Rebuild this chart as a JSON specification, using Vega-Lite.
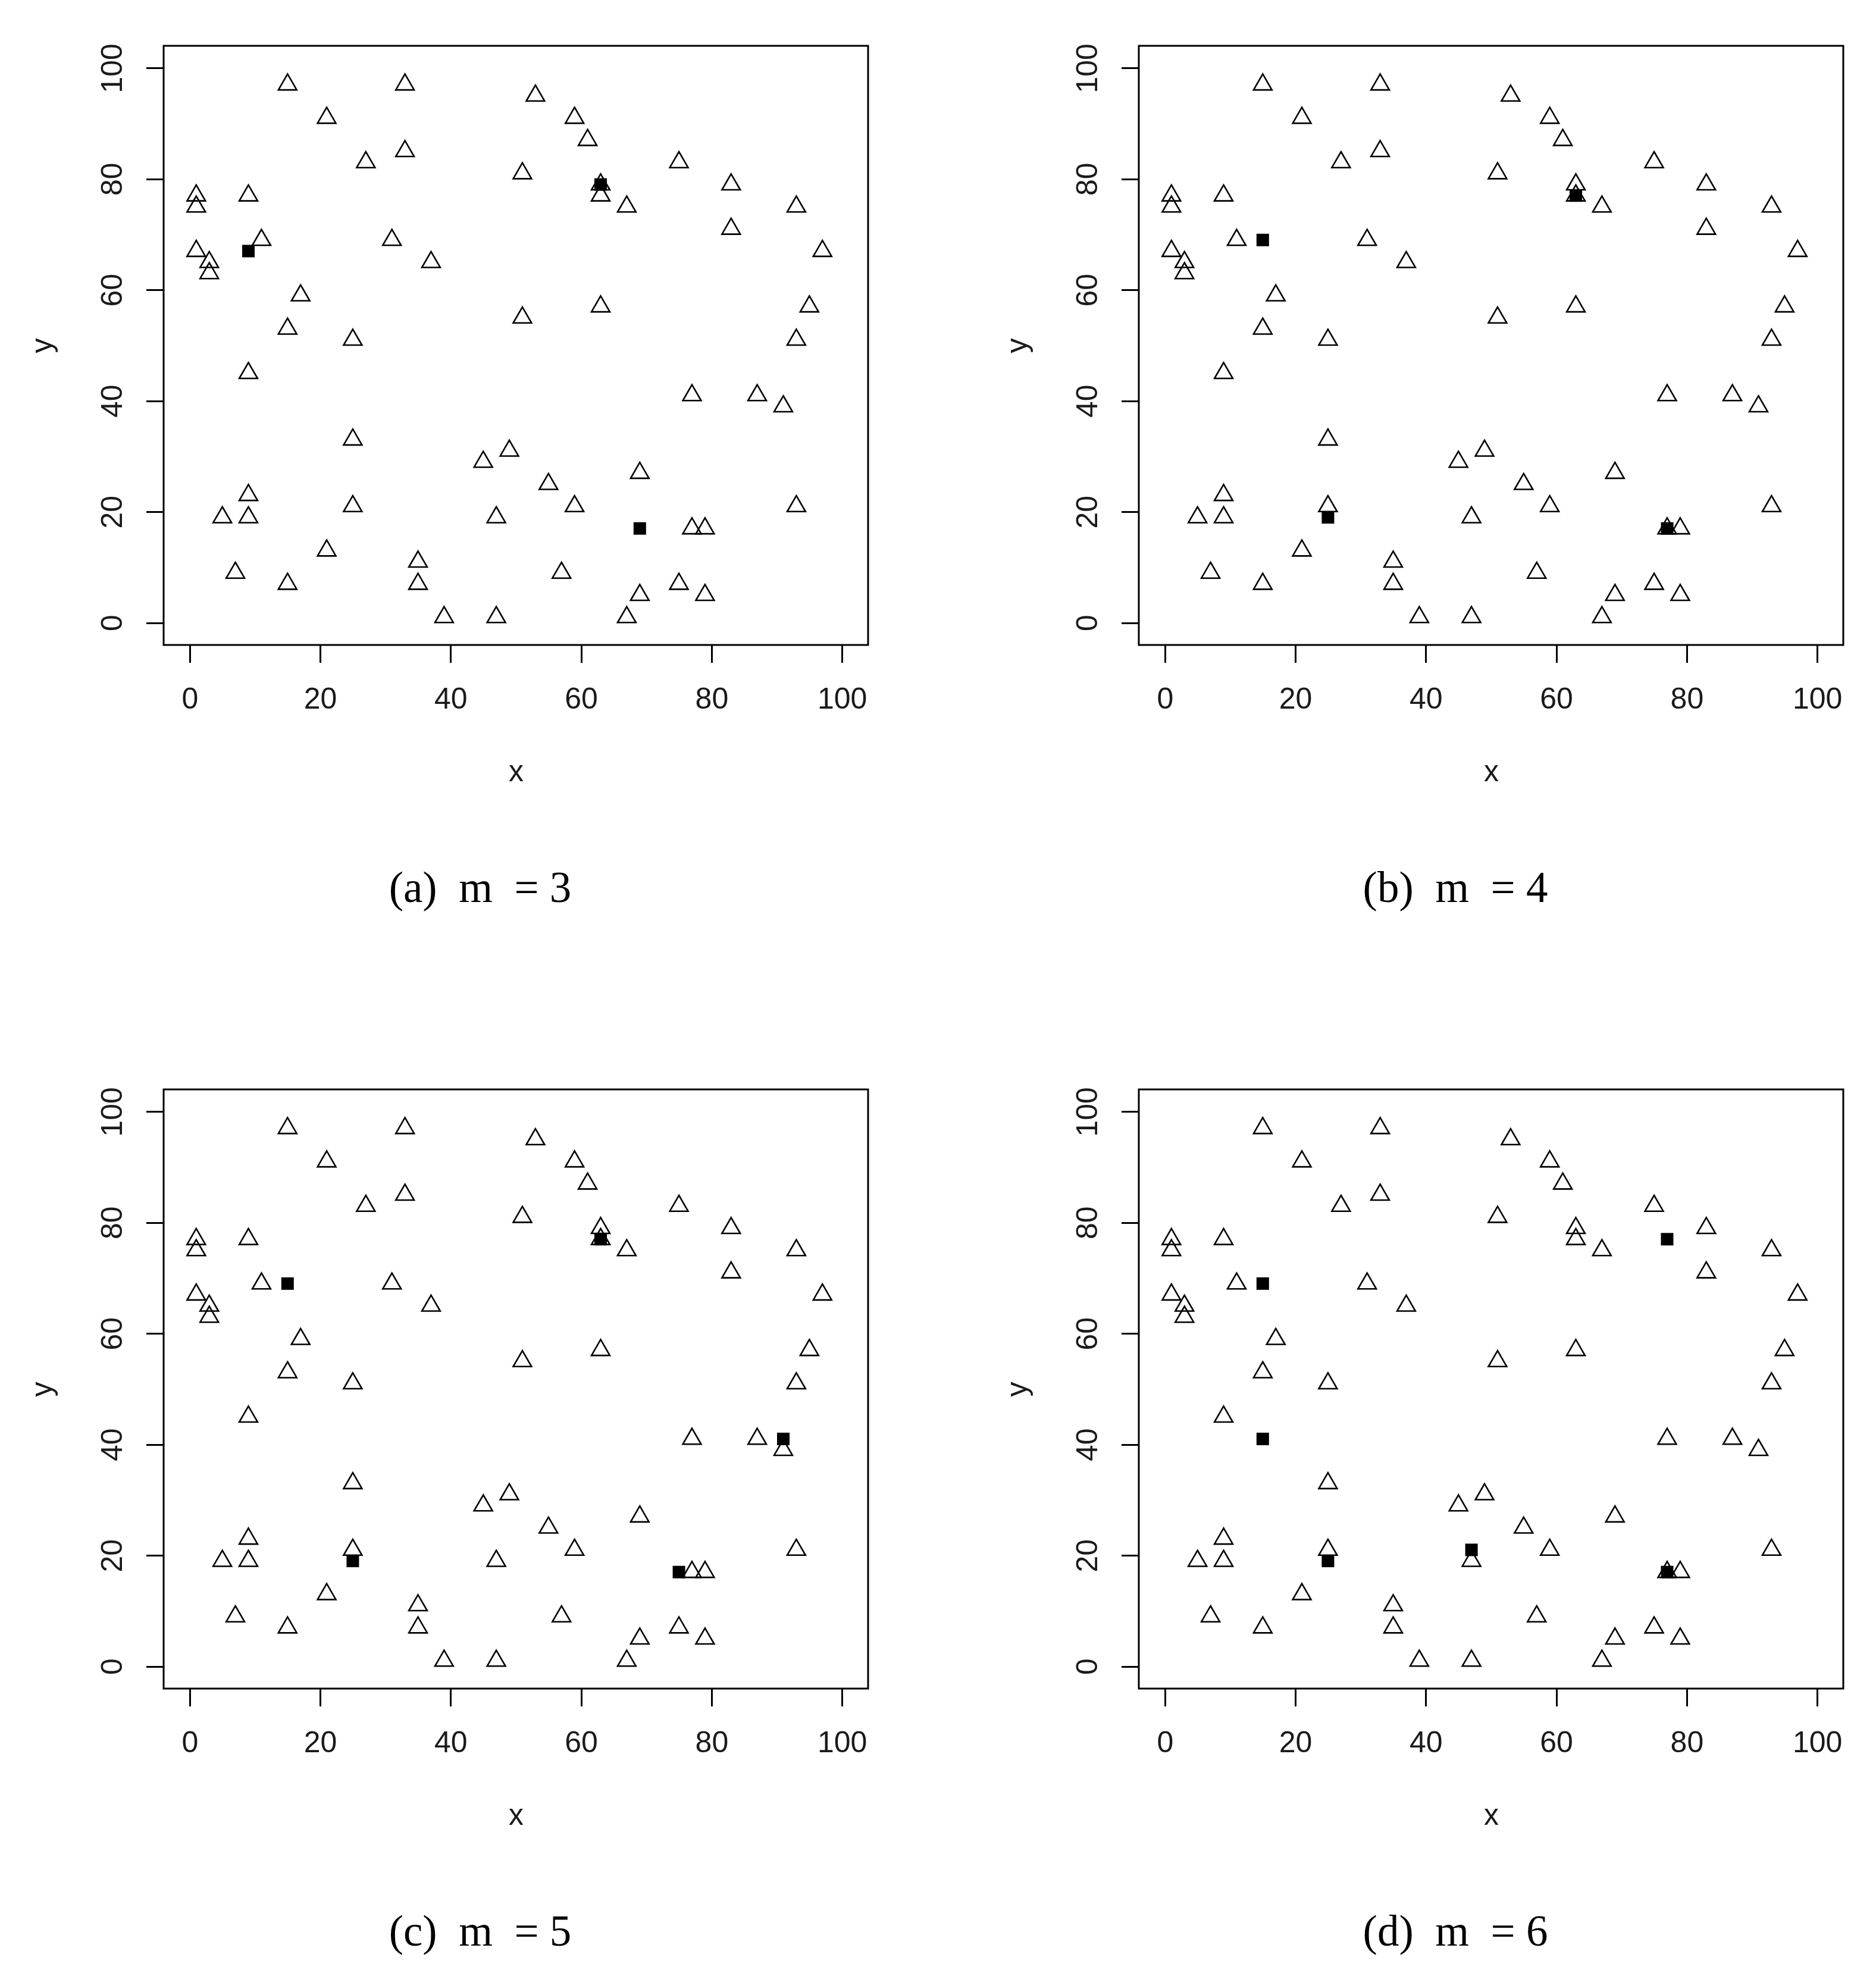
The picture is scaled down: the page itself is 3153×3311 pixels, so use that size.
{
  "$schema": "https://vega.github.io/schema/vega-lite/v6.json",
  "background": "white",
  "padding": {"left": 44, "top": 71, "right": 30, "bottom": 20},
  "datasets": {
    "demand": [
      {"x": 1, "y": 77}, {"x": 1, "y": 75}, {"x": 1, "y": 67}, {"x": 3, "y": 65}, {"x": 3, "y": 63},
      {"x": 9, "y": 77}, {"x": 11, "y": 69}, {"x": 15, "y": 97}, {"x": 21, "y": 91}, {"x": 27, "y": 83},
      {"x": 33, "y": 97}, {"x": 33, "y": 85}, {"x": 31, "y": 69}, {"x": 37, "y": 65}, {"x": 17, "y": 59},
      {"x": 15, "y": 53}, {"x": 25, "y": 51}, {"x": 9, "y": 45}, {"x": 25, "y": 33}, {"x": 9, "y": 23},
      {"x": 9, "y": 19}, {"x": 5, "y": 19}, {"x": 25, "y": 21}, {"x": 21, "y": 13}, {"x": 7, "y": 9},
      {"x": 15, "y": 7}, {"x": 35, "y": 11}, {"x": 35, "y": 7}, {"x": 39, "y": 1}, {"x": 47, "y": 1},
      {"x": 45, "y": 29}, {"x": 49, "y": 31}, {"x": 55, "y": 25}, {"x": 59, "y": 21}, {"x": 47, "y": 19},
      {"x": 57, "y": 9}, {"x": 67, "y": 1}, {"x": 69, "y": 5}, {"x": 75, "y": 7}, {"x": 79, "y": 5},
      {"x": 69, "y": 27}, {"x": 77, "y": 17}, {"x": 79, "y": 17}, {"x": 93, "y": 21}, {"x": 77, "y": 41},
      {"x": 87, "y": 41}, {"x": 91, "y": 39}, {"x": 93, "y": 51}, {"x": 95, "y": 57}, {"x": 97, "y": 67},
      {"x": 93, "y": 75}, {"x": 83, "y": 71}, {"x": 83, "y": 79}, {"x": 75, "y": 83}, {"x": 67, "y": 75},
      {"x": 63, "y": 79}, {"x": 63, "y": 77}, {"x": 63, "y": 57}, {"x": 51, "y": 81}, {"x": 51, "y": 55},
      {"x": 53, "y": 95}, {"x": 59, "y": 91}, {"x": 61, "y": 87}
    ],
    "facility": [
      {"panel": "a", "x": 9, "y": 67}, {"panel": "a", "x": 63, "y": 79}, {"panel": "a", "x": 69, "y": 17},
      {"panel": "b", "x": 15, "y": 69}, {"panel": "b", "x": 63, "y": 77}, {"panel": "b", "x": 25, "y": 19}, {"panel": "b", "x": 77, "y": 17},
      {"panel": "c", "x": 15, "y": 69}, {"panel": "c", "x": 63, "y": 77}, {"panel": "c", "x": 25, "y": 19}, {"panel": "c", "x": 75, "y": 17}, {"panel": "c", "x": 91, "y": 41},
      {"panel": "d", "x": 15, "y": 69}, {"panel": "d", "x": 15, "y": 41}, {"panel": "d", "x": 25, "y": 19}, {"panel": "d", "x": 47, "y": 21}, {"panel": "d", "x": 77, "y": 77}, {"panel": "d", "x": 77, "y": 17}
    ]
  },
  "columns": 2,
  "bounds": "flush",
  "spacing": {"row": 747, "column": 455},
  "concat": [
    {
      "width": 1184, "height": 1007,
      "title": {"text": "(a)\u00a0\u00a0m\u00a0\u00a0=\u00a03"},
      "encoding": {
        "x": {"field": "x", "type": "quantitative", "scale": {"domain": [-4, 104], "nice": false, "zero": false}, "axis": {"title": "x", "values": [0, 20, 40, 60, 80, 100], "titleY": 228}},
        "y": {"field": "y", "type": "quantitative", "scale": {"domain": [-4, 104], "nice": false, "zero": false}, "axis": {"title": "y", "values": [0, 20, 40, 60, 80, 100], "titleX": -189}}
      },
      "layer": [
        {"data": {"name": "demand"}, "mark": {"type": "point", "shape": "M0,-1.1547L1,0.5774L-1,0.5774Z", "filled": false, "color": "black", "strokeWidth": 2.6, "size": 950, "opacity": 1}},
        {"data": {"name": "facility"}, "transform": [{"filter": "datum.panel === 'a'"}], "mark": {"type": "square", "filled": true, "color": "black", "size": 441, "opacity": 1, "strokeWidth": 0}}
      ]
    },
    {
      "width": 1184, "height": 1007,
      "title": {"text": "(b)\u00a0\u00a0m\u00a0\u00a0=\u00a04"},
      "encoding": {
        "x": {"field": "x", "type": "quantitative", "scale": {"domain": [-4, 104], "nice": false, "zero": false}, "axis": {"title": "x", "values": [0, 20, 40, 60, 80, 100], "titleY": 228}},
        "y": {"field": "y", "type": "quantitative", "scale": {"domain": [-4, 104], "nice": false, "zero": false}, "axis": {"title": "y", "values": [0, 20, 40, 60, 80, 100], "titleX": -189}}
      },
      "layer": [
        {"data": {"name": "demand"}, "mark": {"type": "point", "shape": "M0,-1.1547L1,0.5774L-1,0.5774Z", "filled": false, "color": "black", "strokeWidth": 2.6, "size": 950, "opacity": 1}},
        {"data": {"name": "facility"}, "transform": [{"filter": "datum.panel === 'b'"}], "mark": {"type": "square", "filled": true, "color": "black", "size": 441, "opacity": 1, "strokeWidth": 0}}
      ]
    },
    {
      "width": 1184, "height": 1007,
      "title": {"text": "(c)\u00a0\u00a0m\u00a0\u00a0=\u00a05"},
      "encoding": {
        "x": {"field": "x", "type": "quantitative", "scale": {"domain": [-4, 104], "nice": false, "zero": false}, "axis": {"title": "x", "values": [0, 20, 40, 60, 80, 100], "titleY": 228}},
        "y": {"field": "y", "type": "quantitative", "scale": {"domain": [-4, 104], "nice": false, "zero": false}, "axis": {"title": "y", "values": [0, 20, 40, 60, 80, 100], "titleX": -189}}
      },
      "layer": [
        {"data": {"name": "demand"}, "mark": {"type": "point", "shape": "M0,-1.1547L1,0.5774L-1,0.5774Z", "filled": false, "color": "black", "strokeWidth": 2.6, "size": 950, "opacity": 1}},
        {"data": {"name": "facility"}, "transform": [{"filter": "datum.panel === 'c'"}], "mark": {"type": "square", "filled": true, "color": "black", "size": 441, "opacity": 1, "strokeWidth": 0}}
      ]
    },
    {
      "width": 1184, "height": 1007,
      "title": {"text": "(d)\u00a0\u00a0m\u00a0\u00a0=\u00a06"},
      "encoding": {
        "x": {"field": "x", "type": "quantitative", "scale": {"domain": [-4, 104], "nice": false, "zero": false}, "axis": {"title": "x", "values": [0, 20, 40, 60, 80, 100], "titleY": 228}},
        "y": {"field": "y", "type": "quantitative", "scale": {"domain": [-4, 104], "nice": false, "zero": false}, "axis": {"title": "y", "values": [0, 20, 40, 60, 80, 100], "titleX": -189}}
      },
      "layer": [
        {"data": {"name": "demand"}, "mark": {"type": "point", "shape": "M0,-1.1547L1,0.5774L-1,0.5774Z", "filled": false, "color": "black", "strokeWidth": 2.6, "size": 950, "opacity": 1}},
        {"data": {"name": "facility"}, "transform": [{"filter": "datum.panel === 'd'"}], "mark": {"type": "square", "filled": true, "color": "black", "size": 441, "opacity": 1, "strokeWidth": 0}}
      ]
    }
  ],
  "config": {
    "view": {"stroke": "black", "strokeWidth": 3, "fill": "white"},
    "axis": {
      "domain": false, "grid": false, "ticks": true, "tickSize": 29.5, "tickWidth": 3, "tickColor": "black",
      "labelFont": "Liberation Sans", "labelFontSize": 50, "labelColor": "#1a1a1a",
      "titleFont": "Liberation Sans", "titleFontSize": 50, "titleFontWeight": "normal", "titleColor": "#1a1a1a",
      "labelFlush": false, "labelOverlap": false
    },
    "axisX": {"labelPadding": 37, "labelBaseline": "top", "labelAngle": 0, "titleBaseline": "alphabetic", "titleAlign": "center"},
    "axisY": {"labelAngle": -90, "labelAlign": "center", "labelBaseline": "alphabetic", "labelPadding": 41, "titleAngle": -90, "titleBaseline": "alphabetic", "titleAlign": "center"},
    "title": {
      "orient": "bottom", "anchor": "middle", "frame": "group", "dx": -60, "offset": 136, "baseline": "alphabetic",
      "font": "Liberation Serif", "fontSize": 73, "fontWeight": "normal", "color": "black"
    }
  }
}
